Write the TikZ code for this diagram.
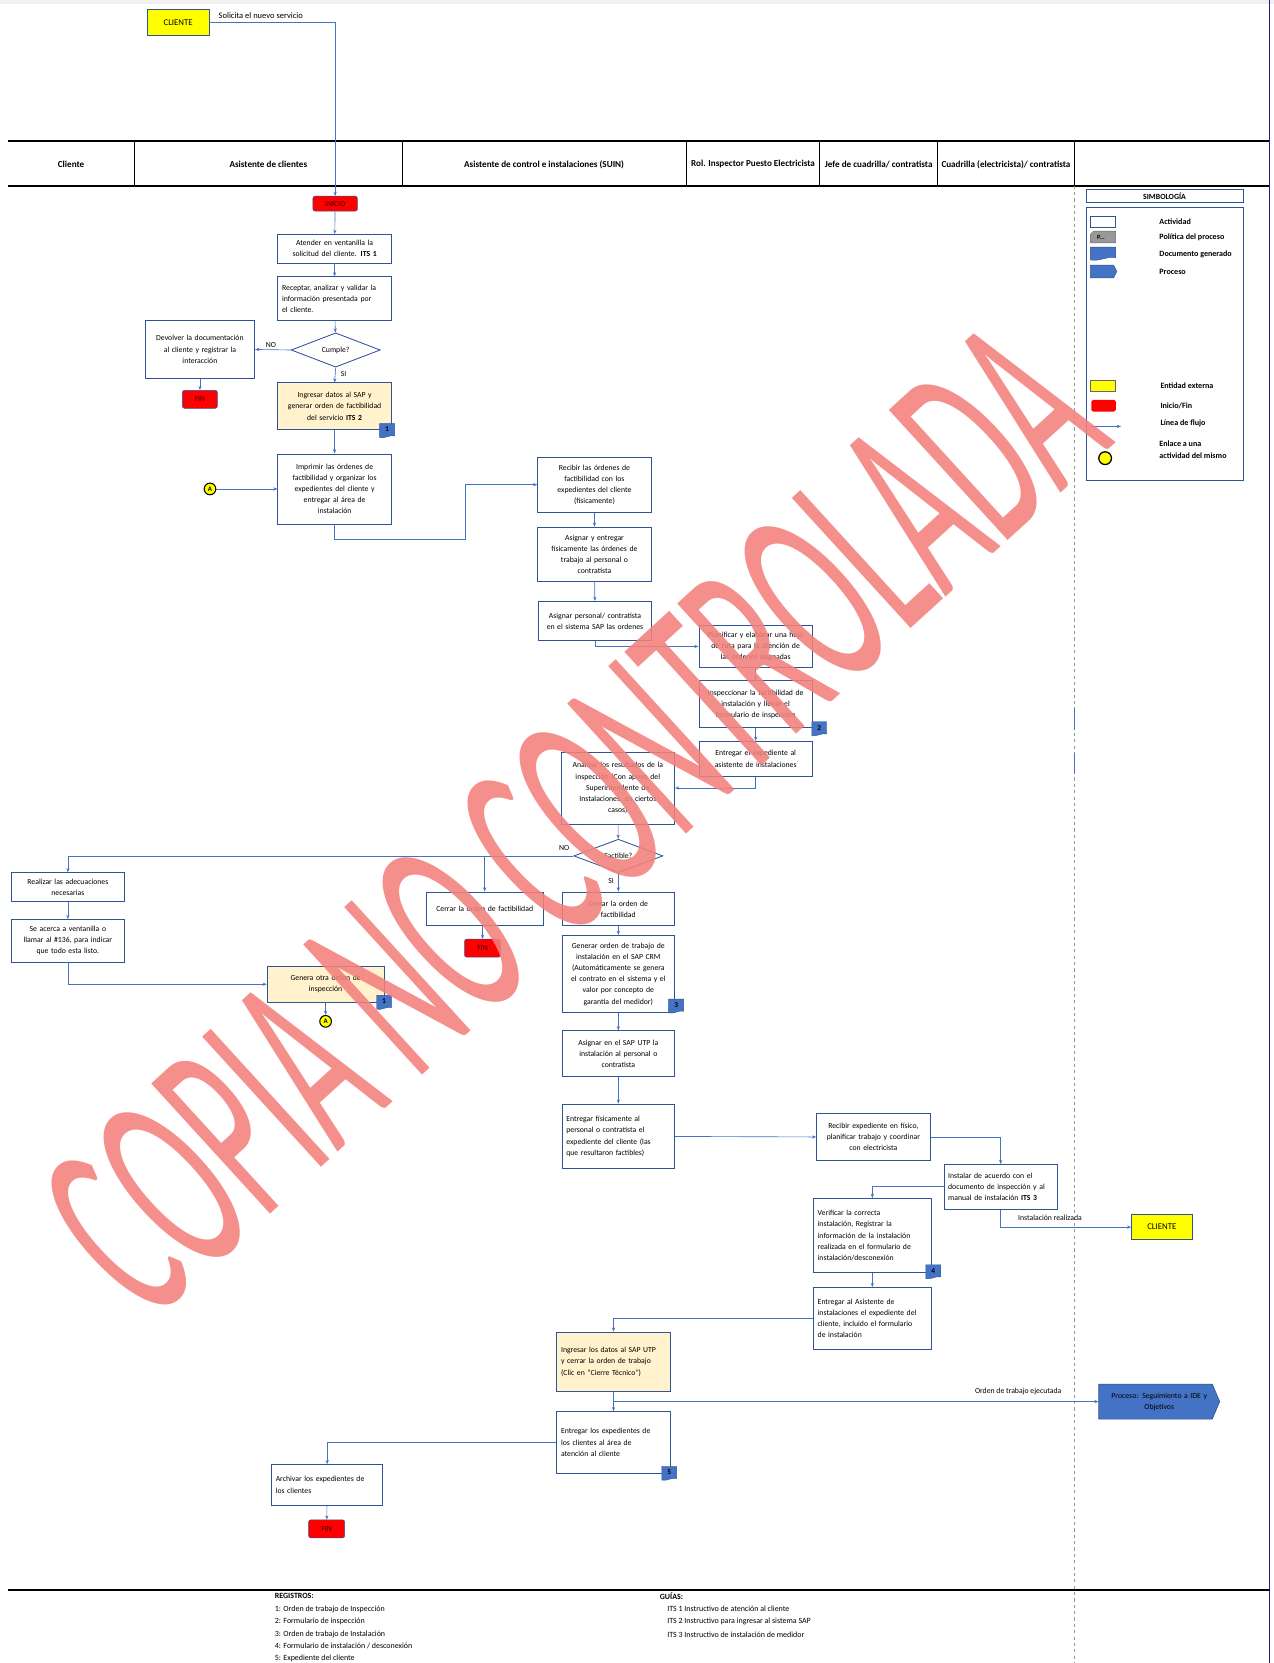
\documentclass[tikz,border=0pt]{standalone}
\usepackage{fontspec}
\setmainfont{Carlito}
\usepackage{graphicx}
\usetikzlibrary{arrows.meta,shapes.geometric,positioning,calc}
\definecolor{boxc}{RGB}{47,84,150}
\definecolor{linec}{RGB}{68,114,196}
\definecolor{tanc}{RGB}{255,242,204}
\definecolor{yelc}{RGB}{255,255,0}
\definecolor{redc}{RGB}{255,0,0}
\definecolor{docc}{RGB}{68,114,196}
\definecolor{wmc}{RGB}{242,128,124}
\definecolor{edgec}{RGB}{30,30,140}
\definecolor{termtxt}{RGB}{60,0,0}
\tikzset{docpic/.pic={\filldraw[draw=boxc, fill=docc, line width=0.4pt] (-7,-6.5) -- (7,-6.5) -- (7,5) .. controls (3,3.5) and (-3,8) .. (-7,6.5) -- cycle;}}

\begin{document}
\begin{tikzpicture}[x=1pt, y=-1pt]
		\tikzstyle{every node}=[font=\fontsize{7.3}{10.5}\selectfont]
		\tikzstyle{act}=[draw=boxc, line width=0.8pt, fill=white, align=center, inner xsep=4pt, inner ysep=1pt]
		\tikzstyle{actl}=[act, align=left]
		\tikzstyle{ext}=[draw=boxc, line width=0.8pt, fill=yelc, minimum width=58, minimum height=24, font=\fontsize{8.3}{9}\selectfont]
		\tikzstyle{term}=[draw=boxc, fill=redc, rounded corners=2pt, minimum width=34, minimum height=17, inner sep=0pt, text=termtxt, font=\fontsize{7.3}{8}\selectfont]
		\tikzstyle{dec}=[diamond, draw=boxc, line width=0.8pt, fill=white, inner sep=0pt]
		\tikzstyle{flow}=[draw=linec, line width=0.6pt, -{Stealth[length=4pt,width=3pt]}]
		\tikzstyle{link}=[circle, draw=black, line width=1pt, fill=yelc, inner sep=0pt, minimum size=11, font=\fontsize{6.5}{6}\selectfont\bfseries]
		\tikzstyle{lane}=[font=\fontsize{8.6}{10}\selectfont\bfseries]
		\tikzstyle{badge}=[inner sep=0pt, font=\fontsize{7}{7}\selectfont\bfseries]
		\tikzstyle{legtxt}=[anchor=west, inner sep=0pt, align=left, font=\fontsize{7.6}{11}\selectfont\bfseries]
		\tikzstyle{foot}=[anchor=west, inner sep=0pt, font=\fontsize{7.5}{8}\selectfont]
		\useasboundingbox (0,0) rectangle (1201,1568);
		\fill[black!6] (0,0) rectangle (1201,4);

		% lanes
		\draw[line width=1.8pt] (8,133) -- (1197,133);
		\draw[line width=1.8pt] (8,175) -- (1197,175);
		\foreach \xl in {127,379,647,773,884,1013}
			\draw[line width=0.8pt] (\xl,133) -- (\xl,175);
		\draw[line width=1pt, edgec] (1197,0) -- (1197,1568);
		\draw[black!40, dashed, line width=0.6pt] (1013,175) -- (1013,1568);
		\draw[line width=1.8pt] (8,1499) -- (1197,1499);
		\draw[docc, line width=1.5pt] (1013,668) -- (1013,688);
		\draw[docc, line width=1.5pt] (1013,710) -- (1013,730);
		\node[lane] (l1) at (67,155) {Cliente};
		\node[lane] (l2) at (253,155) {Asistente de clientes};
		\node[lane] (l3) at (513,155) {Asistente de control e instalaciones (SUIN)};
		\node[lane] (l4) at (710,155) {Rol. Inspector Puesto Electricista};
		\node[lane] (l5) at (828.5,155) {Jefe de cuadrilla/ contratista};
		\node[lane] (l6) at (948.5,155) {Cuadrilla (electricista)/ contratista};

		% legend
		\node[draw=boxc, line width=0.8pt, minimum width=148, minimum height=12, inner sep=0pt, font=\fontsize{7.4}{8}\selectfont\bfseries] (simb) at (1098,185) {SIMBOLOGÍA};
		\draw[boxc, line width=0.8pt] (1024,196) rectangle (1172,453);
		\draw[boxc, line width=0.6pt] (1028,204) rectangle (1052,214);
		\filldraw[draw=black!60, fill=black!40, line width=0.4pt] (1031,218) -- (1052,218) -- (1052,229) -- (1028,229) -- (1028,221) -- cycle;
		\node[inner sep=0pt, font=\fontsize{6}{6}\selectfont\bfseries] (legp) at (1038,224) {P...};
		\filldraw[draw=boxc, fill=docc, line width=0.4pt] (1028,233) -- (1052,233) -- (1052,243) .. controls (1045,241) and (1036,247) .. (1028,245) -- cycle;
		\filldraw[draw=boxc, fill=docc, line width=0.4pt] (1028,250) -- (1050,250) -- (1053,256) -- (1050,262) -- (1028,262) -- cycle;
		\filldraw[draw=black!60, fill=yelc, line width=0.6pt] (1028,359) rectangle (1052,369);
		\fill[redc, rounded corners=1.5pt] (1029,377) rectangle (1052,388);
		\draw[flow, line width=0.5pt] (1028,402) -- (1057,402);
		\node[link, minimum size=12, line width=1.2pt] (legA) at (1042,432) {};
		\node[legtxt] (t1) at (1093,209) {Actividad};
		\node[legtxt] (t2) at (1093,224) {Política del proceso};
		\node[legtxt] (t3) at (1093,240) {Documento generado};
		\node[legtxt] (t4) at (1093,256) {Proceso};
		\node[legtxt] (t5) at (1094,364) {Entidad externa};
		\node[legtxt] (t6) at (1094,383) {Inicio/Fin};
		\node[legtxt] (t7) at (1094,399) {Línea de flujo};
		\node[legtxt] (t8) at (1093,424) {Enlace a una\\actividad del mismo};

		% asistente de clientes
		\node[ext] (cli1) at (168,21) {CLIENTE};
		\node[foot, font=\fontsize{8}{8}\selectfont] (solic) at (206,15) {Solicita el nuevo servicio};
		\node[term, minimum width=42, minimum height=14] (ini) at (316,192) {INICIO};
		\node[act, text width=99, minimum height=27] (a1) at (315.5,234.5) {Atender  en ventanilla la\\ solicitud del cliente. \textbf{ITS 1}};
		\node[actl, text width=99, minimum height=41] (a2) at (315.5,281.5) {Receptar, analizar y validar la\\ información presentada  por\\ el cliente.};
		\node[dec, minimum width=84, minimum height=26] (cumple) at (316.5,330) {Cumple?};
		\node[act, text width=95, minimum height=55] (dev) at (188.5,329.5) {Devolver la documentación\\ al cliente y registrar  la\\ interacción};
		\node[term, minimum width=33] (fin1) at (188.5,376.5) {FIN};
		\node[act, fill=tanc, text width=99, minimum height=44] (a3) at (315.5,383) {Ingresar datos al SAP y\\ generar orden de factibilidad\\ del servicio \textbf{ITS 2}};
		\pic at (365,406) {docpic};
		\node[badge] (m1) at (365,405) {1};
		\node[act, text width=99, minimum height=66] (a4) at (315.5,461) {Imprimir las órdenes de\\ factibilidad y organizar los\\ expedientes del cliente y\\ entregar al área de\\ instalación};
		\node[link] (ca1) at (198,461) {A};

		% asistente de control
		\node[act, text width=99, minimum height=52] (b1) at (560.5,457) {Recibir las órdenes de\\ factibilidad con los\\ expedientes del cliente\\ (físicamente)};
		\node[act, text width=99, minimum height=51] (b2) at (560.5,522.5) {Asignar y entregar\\ físicamente las órdenes de\\ trabajo al personal o\\ contratista};
		\node[act, text width=98, minimum height=37] (b3) at (561,585.5) {Asignar personal/ contratista\\ en el sistema SAP las ordenes};

		% inspector
		\node[act, text width=99, minimum height=39] (c1) at (712.5,609.5) {Planificar y elaborar una hoja\\ de ruta para la atención de\\ las ordenes asignadas};
		\node[act, text width=99, minimum height=44] (c2) at (712.5,664) {Inspeccionar la factibilidad de\\ instalación y llenar el\\ formulario de inspección};
		\pic at (772.5,687) {docpic};
		\node[badge] (m2) at (772.5,686) {2};
		\node[act, text width=99, minimum height=33] (c3) at (712.5,715.5) {Entregar el expediente al\\ asistente de instalaciones};

		\node[act, text width=99, minimum height=68] (b4) at (582.5,743) {Analizar los resultados de la\\ inspección (Con apoyo del\\ Superintendente  de\\ Instalaciones, en ciertos\\ casos)};
		\node[dec, minimum width=84, minimum height=27] (fact) at (583,807) {Factible?};
		\node[act, text width=98, minimum height=27] (d1) at (64,836.5) {Realizar las adecuaciones\\ necesarias};
		\node[act, text width=98, minimum height=40] (d2) at (64,887) {Se acerca a ventanilla o\\ llamar al \#136, para indicar\\ que todo esta listo.};
		\node[act, fill=tanc, text width=102, minimum height=34] (e1) at (307,928) {Genera otra orden de\\ inspección};
		\pic at (362,945) {docpic};
		\node[badge] (m1b) at (362,944) {1};
		\node[link] (ca2) at (307,963) {A};
		\node[act, text width=102, minimum height=32] (cer1) at (457,857) {Cerrar la orden de factibilidad};
		\node[term] (fin2) at (455,894) {FIN};
		\node[act, text width=98, minimum height=32] (b5) at (583,857) {Cerrar la orden de\\ factibilidad};
		\node[act, text width=98, minimum height=73] (b6) at (583,918.5) {Generar orden de trabajo de\\ instalación en el SAP CRM\\ (Automáticamente  se genera\\ el contrato en el sistema y el\\ valor por concepto de\\ garantía del medidor)};
		\pic at (637.5,948.5) {docpic};
		\node[badge] (m3) at (637.5,947.5) {3};
		\node[act, text width=98, minimum height=43] (b7) at (583,993.5) {Asignar  en el SAP UTP la\\ instalación al personal o\\ contratista};
		\node[actl, text width=98, minimum height=61] (b8) at (583,1071.5) {Entregar físicamente al\\ personal o contratista el\\ expediente del cliente (las\\ que resultaron factibles)};

		% jefe y cuadrilla
		\node[act, text width=99, minimum height=44] (f1) at (823.5,1072) {Recibir  expediente en físico,\\ planificar trabajo y coordinar\\ con electricista};
		\node[actl, text width=99, minimum height=42] (g1) at (943.5,1119) {Instalar de acuerdo con el\\ documento de inspección y al\\ manual de instalación \textbf{ITS 3}};
		\node[ext, minimum width=57] (cli2) at (1095.5,1157) {CLIENTE};
		\node[actl, text width=103, minimum height=70] (f2) at (822.5,1165) {Verificar la correcta\\ instalación, Registrar la\\ información de la instalación\\ realizada en el formulario de\\ instalación/desconexión};
		\pic at (880,1199) {docpic};
		\node[badge] (m4) at (880,1198) {4};
		\node[actl, text width=103, minimum height=58] (f3) at (822.5,1243) {Entregar al Asistente de\\ instalaciones el expediente del\\ cliente, incluido el formulario\\ de instalación};
		\node[actl, fill=tanc, text width=99, minimum height=56] (b9) at (578.5,1284) {Ingresar los datos al SAP UTP\\ y cerrar la orden de trabajo\\ (Clic en “Cierre Técnico”)};
		\filldraw[draw=boxc, fill=docc, line width=0.6pt] (1036,1305) -- (1143,1305) -- (1150,1321.5) -- (1143,1338) -- (1036,1338) -- cycle;
		\node[text width=100, inner xsep=7pt, align=center] (proc) at (1093,1321.5) {Proceso: Seguimiento  a IDE y\\ Objetivos};
		\node[actl, text width=99, minimum height=58] (b10) at (578.5,1360) {Entregar los expedientes de\\ los clientes al área de\\ atención al cliente};
		\pic at (631,1389) {docpic};
		\node[badge] (m5) at (631,1388) {5};
		\node[actl, text width=97, minimum height=38] (h1) at (308.5,1400) {Archivar los expedientes de\\ los clientes};
		\node[term] (fin3) at (308,1441.5) {FIN};

		% connectors
		\draw[flow] (cli1.east) -| (ini.north);
		\draw[flow] (ini) -- (a1);
		\draw[flow] (a1) -- (a2);
		\draw[flow] (a2) -- (cumple);
		\draw[flow] (cumple.west) -- (dev.east) node[pos=0.55, above=1pt, inner sep=1pt] (no1) {NO};
		\draw[flow] (dev) -- (fin1);
		\draw[flow] (cumple.south) -- (a3.north) node[pos=0.45, right=4pt, inner sep=1pt] (si1) {SI};
		\draw[flow] (a3) -- (a4);
		\draw[flow] (ca1) -- (a4.west);
		\draw[flow] (a4.south) -- ++(0,14) -| ([xshift=-68]b1.west) -- (b1.west);
		\draw[flow] (b1) -- (b2);
		\draw[flow] (b2) -- (b3);
		\draw[flow] (b3.south) |- (c1.west);
		\draw[flow] (c1) -- (c2);
		\draw[flow] (c2) -- (c3);
		\draw[flow] (c3.south) |- (b4.east);
		\draw[flow] (b4) -- (fact);
		\draw[flow] (fact.west) -| (d1.north);
		\draw[flow] (cer1.north |- fact.west) -- (cer1.north);
		\node[inner sep=1pt] (no2) at (532,800) {NO};
		\draw[flow] (fact.south) -- (b5.north) node[pos=0.45, left=3pt, inner sep=1pt] (si2) {SI};
		\draw[flow] (d1) -- (d2);
		\draw[flow] (d2.south) |- (e1.west);
		\draw[flow] (e1) -- (ca2);
		\draw[flow] (cer1.south -| fin2.north) -- (fin2.north);
		\draw[flow] (b5) -- (b6);
		\draw[flow] (b6) -- (b7);
		\draw[flow] (b7) -- (b8);
		\draw[flow] (b8.east) -- (f1.west);
		\draw[flow] (f1.east) -| (g1.north);
		\draw[flow] (g1.south) |- (cli2.west);
		\node[inner sep=1pt] (inst) at (990,1148) {Instalación realizada};
		\draw[flow] (g1.west) -| (f2.north);
		\draw[flow] (f2) -- (f3);
		\draw[flow] (f3.west) -| (b9.north);
		\draw[flow] (b9.south) |- (proc.west);
		\node[inner sep=1pt] (ord) at (960,1312) {Orden de trabajo ejecutada};
		\draw[flow] (b9) -- (b10);
		\draw[flow] (b10.west) -| (h1.north);
		\draw[flow] (h1) -- (fin3);

		% footer
		\node[foot, font=\fontsize{7.5}{8}\selectfont\bfseries] (reg) at (259,1505) {REGISTROS:};
		\node[foot] (r1) at (259,1517) {1: Orden de trabajo de Inspección};
		\node[foot] (r2) at (259,1529) {2: Formulario de inspección};
		\node[foot] (r3) at (259,1541) {3: Orden de trabajo de Instalación};
		\node[foot] (r4) at (259,1552) {4: Formulario de instalación / desconexión};
		\node[foot] (r5) at (259,1564) {5: Expediente del cliente};
		\node[foot, font=\fontsize{7.5}{8}\selectfont\bfseries] (gui) at (622,1505) {GUÍAS:};
		\node[foot] (g1t) at (629,1517) {ITS 1  Instructivo de atención al cliente};
		\node[foot] (g2t) at (629,1529) {ITS 2  Instructivo para ingresar al sistema SAP};
		\node[foot] (g3t) at (629,1541) {ITS 3  Instructivo de instalación de medidor};

		% watermark
		\node[rotate=42.4, text=wmc, opacity=0.88, inner sep=0pt] (wm) at (540,772) {\resizebox{1235pt}{168pt}{COPIA NO CONTROLADA}};
\end{tikzpicture}
\end{document}
